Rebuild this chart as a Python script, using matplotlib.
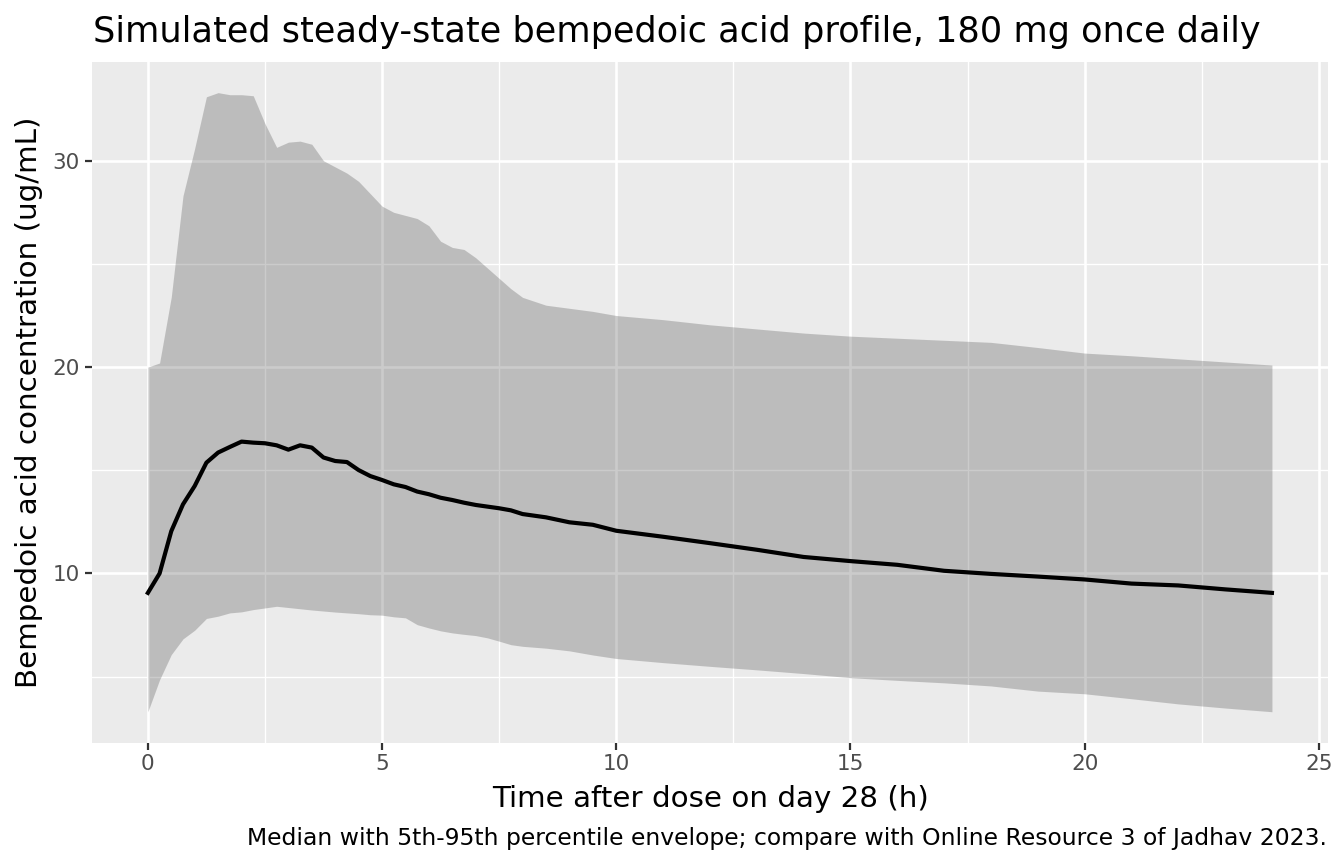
# Simulated steady-state bempedoic acid profile (ggplot-like style in matplotlib)
import matplotlib
matplotlib.use("Agg")
import matplotlib.pyplot as plt
from matplotlib.ticker import MultipleLocator

# Time after dose (h)
time_h = [0, 0.25, 0.5, 0.75, 1, 1.25, 1.5, 1.75, 2, 2.25, 2.5, 2.75, 3, 3.25, 3.5,
          3.75, 4, 4.25, 4.5, 4.75, 5, 5.25, 5.5, 5.75, 6, 6.25, 6.5, 6.75, 7, 7.25,
          7.5, 7.75, 8, 8.5, 9, 9.5, 10, 11, 12, 13, 14, 15, 16, 17, 18, 19, 20, 21,
          22, 23, 24]

# Median concentration (ug/mL)
median_conc = [9.06, 10.0, 12.05, 13.35, 14.24, 15.37, 15.86, 16.13, 16.39, 16.34,
               16.31, 16.21, 16.0, 16.21, 16.1, 15.62, 15.45, 15.4, 15.01, 14.72,
               14.53, 14.32, 14.19, 13.97, 13.84, 13.67, 13.56, 13.43, 13.32, 13.24,
               13.16, 13.06, 12.88, 12.72, 12.48, 12.36, 12.07, 11.78, 11.47, 11.15,
               10.8, 10.6, 10.42, 10.13, 9.98, 9.85, 9.71, 9.51, 9.42, 9.23, 9.06]

# 95th percentile
upper_conc = [20.0, 20.2, 23.4, 28.3, 30.6, 33.1, 33.3, 33.2, 33.2, 33.15, 31.8,
              30.65, 30.9, 30.95, 30.8, 30.0, 29.7, 29.4, 29.0, 28.4, 27.8, 27.5,
              27.35, 27.2, 26.85, 26.1, 25.8, 25.7, 25.3, 24.8, 24.3, 23.8, 23.38,
              23.0, 22.85, 22.7, 22.5, 22.3, 22.05, 21.85, 21.65, 21.5, 21.4, 21.3,
              21.2, 20.95, 20.68, 20.55, 20.4, 20.25, 20.1]

# 5th percentile
lower_conc = [3.3, 4.85, 6.07, 6.83, 7.25, 7.82, 7.93, 8.09, 8.14, 8.25, 8.33, 8.41,
              8.35, 8.29, 8.23, 8.18, 8.13, 8.09, 8.05, 8.0, 7.98, 7.9, 7.85, 7.52,
              7.36, 7.22, 7.12, 7.05, 6.99, 6.88, 6.72, 6.55, 6.47, 6.38, 6.25, 6.05,
              5.88, 5.68, 5.5, 5.33, 5.15, 4.95, 4.82, 4.7, 4.55, 4.3, 4.17, 3.93,
              3.68, 3.48, 3.3]

fig = plt.figure(figsize=(13.44, 8.64), dpi=100)
ax = fig.add_axes([0.0682, 0.1404, 0.92, 0.7882])

# Panel background and grid
ax.set_facecolor("#EBEBEB")
for side in ax.spines.values():
    side.set_visible(False)
ax.set_axisbelow(True)
ax.xaxis.set_major_locator(MultipleLocator(5))
ax.xaxis.set_minor_locator(MultipleLocator(2.5))
ax.yaxis.set_major_locator(MultipleLocator(10))
ax.yaxis.set_minor_locator(MultipleLocator(5))
ax.grid(which="major", color="white", linewidth=1.9)
ax.grid(which="minor", color="white", linewidth=0.95)

# Ribbon and median line
ax.fill_between(time_h, lower_conc, upper_conc, color="#333333", alpha=0.25,
                linewidth=0, zorder=2)
ax.plot(time_h, median_conc, color="black", linewidth=3.0, zorder=3,
        solid_joinstyle="round")

ax.set_xlim(-1.2, 25.2)
ax.set_ylim(1.8, 34.8)

ax.tick_params(which="major", length=5, width=1.6, color="#333333",
               labelsize=15.5, labelcolor="#4D4D4D", pad=3.5)
ax.tick_params(which="minor", length=0)

# Text
fig.text(93 / 1344, 1 - 41.7 / 864, "Simulated steady-state bempedoic acid profile, 180 mg once daily",
         fontsize=25.3, ha="left", va="baseline")
fig.text(710 / 1344, 1 - 807 / 864, "Time after dose on day 28 (h)",
         fontsize=21.2, ha="center", va="baseline")
fig.text(29 / 1344, 0.5345, "Bempedoic acid concentration (ug/mL)",
         fontsize=21.2, ha="center", va="center", rotation=90)
fig.text(1327 / 1344, 1 - 845 / 864,
         "Median with 5th-95th percentile envelope; compare with Online Resource 3 of Jadhav 2023.",
         fontsize=16.9, ha="right", va="baseline")

fig.savefig("out.png", dpi=100, facecolor="white")
